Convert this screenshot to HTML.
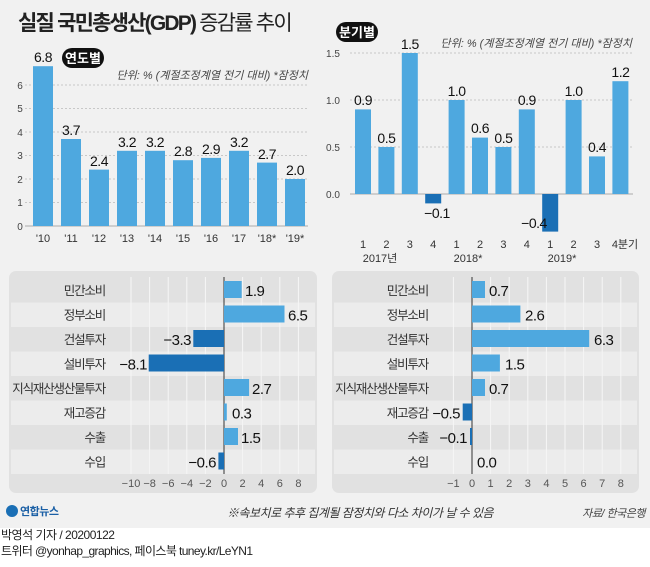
<!DOCTYPE html>
<html><head><meta charset="utf-8"><style>
body{margin:0;width:650px;height:562px;overflow:hidden;background:#fff;font-family:"Liberation Sans","Noto Sans CJK KR",sans-serif}
svg text{font-family:"Liberation Sans","Noto Sans CJK KR",sans-serif}
</style></head><body>
<svg width="650" height="562" viewBox="0 0 650 562" xmlns="http://www.w3.org/2000/svg">
<rect x="0" y="0" width="650" height="528" fill="#f1f1f1"/>
<text x="18" y="30" font-size="21" fill="#222" font-weight="bold" letter-spacing="-1.8">실질 국민총생산(GDP) <tspan font-weight="normal">증감률 추이</tspan></text>
<rect x="62" y="48" width="42" height="20" rx="10" fill="#111"/>
<text x="83" y="63" font-size="13" fill="#fff" text-anchor="middle" font-weight="bold">연도별</text>
<text x="308" y="79" font-size="11" fill="#444" text-anchor="end" font-style="italic">단위: % (계절조정계열 전기 대비)  *잠정치</text>
<g stroke="#c8c8c8" stroke-dasharray="2,2" stroke-width="1">
<line x1="25" x2="308" y1="85" y2="85"/><line x1="25" x2="308" y1="108.5" y2="108.5"/><line x1="25" x2="308" y1="132" y2="132"/><line x1="25" x2="308" y1="155.5" y2="155.5"/><line x1="25" x2="308" y1="179" y2="179"/><line x1="25" x2="308" y1="202.5" y2="202.5"/>
</g>
<line x1="25" x2="308" y1="226" y2="226" stroke="#aaa"/>
<g font-size="10" fill="#444" text-anchor="middle">
<text x="20" y="89">6</text><text x="20" y="112">5</text><text x="20" y="136">4</text><text x="20" y="159">3</text><text x="20" y="183">2</text><text x="20" y="206">1</text><text x="20" y="230">0</text>
</g>
<g fill="#4ea8df">
<rect x="33" y="66.2" width="20" height="159.8"/><rect x="61" y="139" width="20" height="87"/><rect x="89" y="169.6" width="20" height="56.4"/><rect x="117" y="150.8" width="20" height="75.2"/><rect x="145" y="150.8" width="20" height="75.2"/><rect x="173" y="160.2" width="20" height="65.8"/><rect x="201" y="157.9" width="20" height="68.1"/><rect x="229" y="150.8" width="20" height="75.2"/><rect x="257" y="162.6" width="20" height="63.4"/><rect x="285" y="179" width="20" height="47"/>
</g>
<g font-size="14" fill="#111" text-anchor="middle" letter-spacing="-0.5">
<text x="43" y="62">6.8</text><text x="71" y="135">3.7</text><text x="99" y="166">2.4</text><text x="127" y="147">3.2</text><text x="155" y="147">3.2</text><text x="183" y="156">2.8</text><text x="211" y="154">2.9</text><text x="239" y="147">3.2</text><text x="267" y="159">2.7</text><text x="295" y="175">2.0</text>
</g>
<g font-size="11" fill="#333" text-anchor="middle">
<text x="43" y="242">'10</text><text x="71" y="242">'11</text><text x="99" y="242">'12</text><text x="127" y="242">'13</text><text x="155" y="242">'14</text><text x="183" y="242">'15</text><text x="211" y="242">'16</text><text x="239" y="242">'17</text><text x="267" y="242">'18*</text><text x="295" y="242">'19*</text>
</g>
<rect x="336" y="22" width="42" height="20" rx="10" fill="#111"/>
<text x="357" y="37" font-size="13" fill="#fff" text-anchor="middle" font-weight="bold">분기별</text>
<text x="632" y="47" font-size="11" fill="#444" text-anchor="end" font-style="italic">단위: % (계절조정계열 전기 대비)  *잠정치</text>
<g stroke="#c8c8c8" stroke-dasharray="2,2">
<line x1="350" x2="633" y1="53" y2="53"/><line x1="350" x2="633" y1="100" y2="100"/><line x1="350" x2="633" y1="147" y2="147"/>
</g>
<line x1="350" x2="633" y1="194" y2="194" stroke="#aaa"/>
<g font-size="10" fill="#444" text-anchor="middle">
<text x="333" y="57">1.5</text><text x="333" y="104">1.0</text><text x="333" y="151">0.5</text><text x="333" y="198">0.0</text>
</g>
<g fill="#4ea8df">
<rect x="355" y="109.4" width="16" height="84.6"/><rect x="378.4" y="147" width="16" height="47"/><rect x="401.8" y="53" width="16" height="141"/>
<rect x="448.6" y="100" width="16" height="94"/><rect x="472" y="137.6" width="16" height="56.4"/><rect x="495.4" y="147" width="16" height="47"/><rect x="518.8" y="109.4" width="16" height="84.6"/>
<rect x="565.6" y="100" width="16" height="94"/><rect x="589" y="156.4" width="16" height="37.6"/><rect x="612.4" y="81.2" width="16" height="112.8"/>
</g>
<g fill="#1a6fb5"><rect x="425.2" y="194" width="16" height="9.4"/><rect x="542.2" y="194" width="16" height="37.6"/></g>
<g font-size="14" fill="#111" text-anchor="middle" letter-spacing="-0.5">
<text x="363" y="105">0.9</text><text x="386.4" y="143">0.5</text><text x="409.8" y="49">1.5</text><text x="437" y="218">−0.1</text><text x="456.6" y="96">1.0</text><text x="480" y="133">0.6</text><text x="503.4" y="143">0.5</text><text x="526.8" y="105">0.9</text><text x="534" y="228">−0.4</text><text x="573.6" y="96">1.0</text><text x="597" y="152">0.4</text><text x="620.4" y="77">1.2</text>
</g>
<g font-size="11" fill="#333" text-anchor="middle">
<text x="363" y="248">1</text><text x="386.4" y="248">2</text><text x="409.8" y="248">3</text><text x="433.2" y="248">4</text><text x="456.6" y="248">1</text><text x="480" y="248">2</text><text x="503.4" y="248">3</text><text x="526.8" y="248">4</text><text x="550.2" y="248">1</text><text x="573.6" y="248">2</text><text x="597" y="248">3</text><text x="625" y="248">4분기</text>
<text x="380" y="262">2017년</text><text x="468" y="262">2018*</text><text x="562" y="262">2019*</text>
</g>
<rect x="9" y="271" width="308" height="222" rx="7" fill="#e1e1e1"/>
<g fill="#ececec"><rect x="11" y="302.5" width="304" height="24.5"/><rect x="11" y="351.5" width="304" height="24.5"/><rect x="11" y="400.5" width="304" height="24.5"/><rect x="11" y="449.5" width="304" height="24.5"/></g>
<g stroke="#f6f6f6" stroke-width="1"><line x1="131" x2="131" y1="277" y2="474"/><line x1="149.6" x2="149.6" y1="277" y2="474"/><line x1="168.2" x2="168.2" y1="277" y2="474"/><line x1="186.8" x2="186.8" y1="277" y2="474"/><line x1="205.4" x2="205.4" y1="277" y2="474"/><line x1="242.6" x2="242.6" y1="277" y2="474"/><line x1="261.2" x2="261.2" y1="277" y2="474"/><line x1="279.8" x2="279.8" y1="277" y2="474"/><line x1="298.4" x2="298.4" y1="277" y2="474"/></g>
<line x1="224" x2="224" y1="277" y2="474" stroke="#333"/>
<g font-size="12.5" fill="#333" text-anchor="end" letter-spacing="-1.2">
<text x="105" y="295">민간소비</text><text x="105" y="319.5">정부소비</text><text x="105" y="344">건설투자</text><text x="105" y="368.5">설비투자</text><text x="105" y="393">지식재산생산물투자</text><text x="105" y="417.5">재고증감</text><text x="105" y="442">수출</text><text x="105" y="466.5">수입</text>
</g>
<g fill="#4ea8df"><rect x="224" y="281" width="17.7" height="17"/><rect x="224" y="305.5" width="60.5" height="17"/><rect x="224" y="379" width="25.1" height="17"/><rect x="224" y="403.5" width="2.8" height="17"/><rect x="224" y="428" width="14" height="17"/></g>
<g fill="#1a6fb5"><rect x="193.3" y="330" width="30.7" height="17"/><rect x="148.7" y="354.5" width="75.3" height="17"/><rect x="218.4" y="452.5" width="5.6" height="17"/></g>
<g font-size="15" fill="#111" letter-spacing="-0.5">
<text x="245" y="296">1.9</text><text x="288" y="320.5">6.5</text><text x="191" y="345" text-anchor="end">−3.3</text><text x="147" y="369.5" text-anchor="end">−8.1</text><text x="252" y="394">2.7</text><text x="232" y="418.5">0.3</text><text x="241" y="443">1.5</text><text x="216" y="467.5" text-anchor="end">−0.6</text>
</g>
<g font-size="11" fill="#555" text-anchor="middle">
<text x="131" y="487">−10</text><text x="149.6" y="487">−8</text><text x="168.2" y="487">−6</text><text x="186.8" y="487">−4</text><text x="205.4" y="487">−2</text><text x="224" y="487">0</text><text x="242.6" y="487">2</text><text x="261.2" y="487">4</text><text x="279.8" y="487">6</text><text x="298.4" y="487">8</text>
</g>
<rect x="332" y="271" width="307" height="222" rx="7" fill="#e1e1e1"/>
<g fill="#ececec"><rect x="334" y="302.5" width="303" height="24.5"/><rect x="334" y="351.5" width="303" height="24.5"/><rect x="334" y="400.5" width="303" height="24.5"/><rect x="334" y="449.5" width="303" height="24.5"/></g>
<g stroke="#f6f6f6"><line x1="453.4" x2="453.4" y1="277" y2="474"/><line x1="490.6" x2="490.6" y1="277" y2="474"/><line x1="509.2" x2="509.2" y1="277" y2="474"/><line x1="527.8" x2="527.8" y1="277" y2="474"/><line x1="546.4" x2="546.4" y1="277" y2="474"/><line x1="565" x2="565" y1="277" y2="474"/><line x1="583.6" x2="583.6" y1="277" y2="474"/><line x1="602.2" x2="602.2" y1="277" y2="474"/><line x1="620.8" x2="620.8" y1="277" y2="474"/></g>
<line x1="472" x2="472" y1="277" y2="474" stroke="#333"/>
<g font-size="12.5" fill="#333" text-anchor="end" letter-spacing="-1.2">
<text x="428" y="295">민간소비</text><text x="428" y="319.5">정부소비</text><text x="428" y="344">건설투자</text><text x="428" y="368.5">설비투자</text><text x="428" y="393">지식재산생산물투자</text><text x="428" y="417.5">재고증감</text><text x="428" y="442">수출</text><text x="428" y="466.5">수입</text>
</g>
<g fill="#4ea8df"><rect x="472" y="281" width="13" height="17"/><rect x="472" y="305.5" width="48.4" height="17"/><rect x="472" y="330" width="117.2" height="17"/><rect x="472" y="354.5" width="27.9" height="17"/><rect x="472" y="379" width="13" height="17"/></g>
<g fill="#1a6fb5"><rect x="462.7" y="403.5" width="9.3" height="17"/><rect x="470" y="428" width="2" height="17"/></g>
<g font-size="15" fill="#111" letter-spacing="-0.5">
<text x="489" y="296">0.7</text><text x="525" y="320.5">2.6</text><text x="594" y="345">6.3</text><text x="505" y="369.5">1.5</text><text x="489" y="394">0.7</text><text x="460" y="418.5" text-anchor="end">−0.5</text><text x="467" y="443" text-anchor="end">−0.1</text><text x="477" y="467.5">0.0</text>
</g>
<g font-size="11" fill="#555" text-anchor="middle">
<text x="453.4" y="487">−1</text><text x="472" y="487">0</text><text x="490.6" y="487">1</text><text x="509.2" y="487">2</text><text x="527.8" y="487">3</text><text x="546.4" y="487">4</text><text x="565" y="487">5</text><text x="583.6" y="487">6</text><text x="602.2" y="487">7</text><text x="620.8" y="487">8</text>
</g>
<circle cx="12" cy="511" r="6" fill="#1a6fb5"/>
<text x="20" y="515" font-size="11" fill="#1a5fa5" font-weight="bold" letter-spacing="-0.5">연합뉴스</text>
<text x="360" y="517" font-size="12" fill="#333" text-anchor="middle" font-style="italic" letter-spacing="-0.5">※속보치로 추후 집계될 잠정치와 다소 차이가 날 수 있음</text>
<text x="645" y="517" font-size="11" fill="#444" text-anchor="end" font-style="italic" letter-spacing="-0.5">자료/ 한국은행</text>
<text x="1" y="539" font-size="12" fill="#222" letter-spacing="-0.5">박영석 기자 /  20200122</text>
<text x="1" y="555" font-size="12" fill="#222" letter-spacing="-0.6">트위터 @yonhap_graphics, 페이스북 tuney.kr/LeYN1</text>
</svg>
</body></html>
